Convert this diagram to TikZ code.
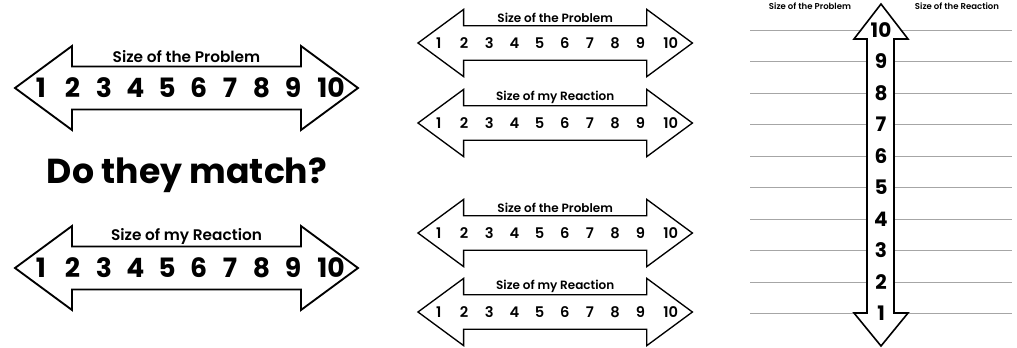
\documentclass[tikz,border=0pt]{standalone}
\usepackage{fontspec}
\setmainfont{Poppins}[BoldFont={Poppins SemiBold}]
\newfontface\heavyfont{Poppins Bold}
\usepackage{tikz}

\tikzset{
  arrowline/.style={draw=black, fill=white, line join=miter},
  ruleline/.style={draw=gray!70, line width=0.6pt},
}

% #1 name, #2 tip, #3 scope options, #4 number font, #5 label font, #6 label
\newcommand{\sizearrow}[6]{%
  \begin{scope}[shift={#2}, #3]
    \draw[arrowline] (0,0) -- (57,-42) -- (57,-21.5) -- (286,-21.5) -- (286,-42)
      -- (343,0) -- (286,42) -- (286,21.5) -- (57,21.5) -- (57,42) -- cycle;
    \node[font=#5] (#1-label) at (171.5,-31.5) {#6};
    \foreach \n/\x in {1/26,2/57.5,3/89,4/120.5,5/152,6/183.5,7/215,8/246.5,9/278,10/316}
      \node[font=#4] (#1-\n) at (\x,0) {\n};
  \end{scope}}

\begin{document}
\begin{tikzpicture}[x=0.75pt, y=-0.75pt]
\useasboundingbox (0,0) rectangle (1017,347);

% left side
\sizearrow{bigprob}{(15,88)}{line width=1.4pt}{\heavyfont\fontsize{20}{20}\selectfont}{\bfseries\fontsize{11.5}{11.5}\selectfont}{Size of the Problem}
\node[font=\heavyfont\fontsize{26}{26}\selectfont] (match) at (187,175) {Do they match?};
\sizearrow{bigreact}{(15,268)}{line width=1.4pt}{\heavyfont\fontsize{20}{20}\selectfont}{\bfseries\fontsize{11.5}{11.5}\selectfont}{Size of my Reaction}

% middle
\sizearrow{probA}{(418,43)}{scale=0.8, line width=1pt}{\bfseries\fontsize{11}{11}\selectfont}{\bfseries\fontsize{9}{9}\selectfont}{Size of the Problem}
\sizearrow{reactA}{(418,123)}{scale=0.8, line width=1pt}{\bfseries\fontsize{11}{11}\selectfont}{\bfseries\fontsize{9}{9}\selectfont}{Size of my Reaction}
\sizearrow{probB}{(418,233)}{scale=0.8, line width=1pt}{\bfseries\fontsize{11}{11}\selectfont}{\bfseries\fontsize{9}{9}\selectfont}{Size of the Problem}
\sizearrow{reactB}{(418,312)}{scale=0.8, line width=1pt}{\bfseries\fontsize{11}{11}\selectfont}{\bfseries\fontsize{9}{9}\selectfont}{Size of my Reaction}

% right: vertical scale
\node[font=\bfseries\fontsize{6.4}{6.4}\selectfont] (headprob) at (810,6) {Size of the Problem};
\node[font=\bfseries\fontsize{6.4}{6.4}\selectfont] (headreact) at (957,6) {Size of the Reaction};
\foreach \k in {1,...,10}
  \draw[ruleline] (750,{30+31.5*(10-\k)}) -- (1012,{30+31.5*(10-\k)});
\draw[arrowline, line width=1.2pt] (881,4) -- (908,39) -- (894,39) -- (894,313) -- (908,313)
  -- (881,346) -- (854,313) -- (867,313) -- (867,39) -- (854,39) -- cycle;
\foreach \k in {1,...,10}
  \node[font=\heavyfont\fontsize{15}{15}\selectfont] (v-\k) at (881,{30+31.5*(10-\k)}) {\k};
\end{tikzpicture}
\end{document}
